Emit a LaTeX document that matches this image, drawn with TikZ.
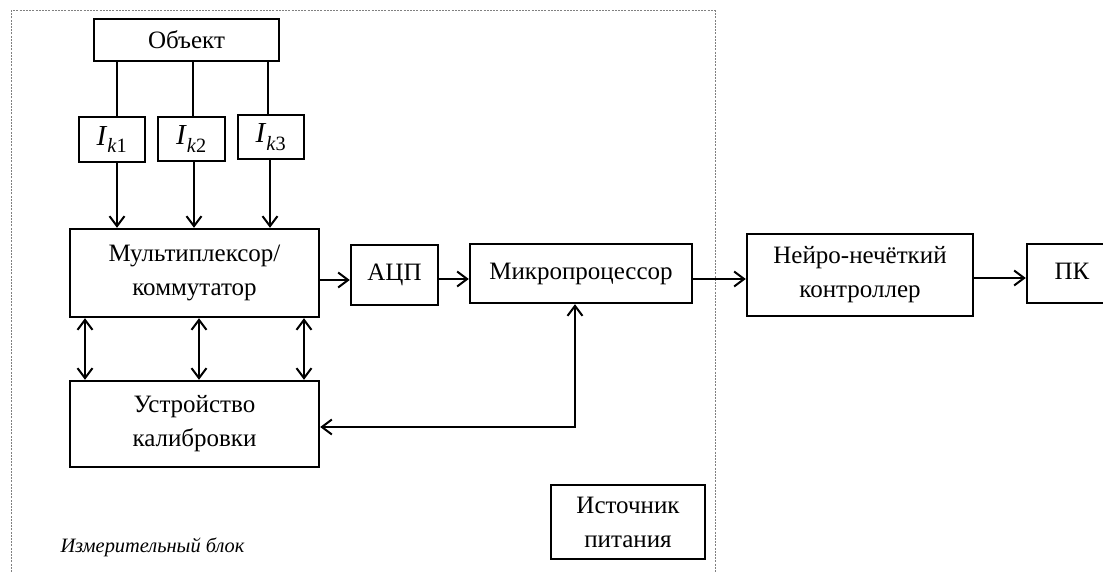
\documentclass[tikz,border=0pt]{standalone}
\usepackage{fontspec}
\setmainfont{Liberation Serif}
\usetikzlibrary{arrows.meta}
\tikzset{
  blk/.style={draw, line width=2.4pt, inner sep=0pt, align=center, font=\fontsize{25}{34}\selectfont},
  ik/.style={blk, font=\fontsize{29}{30}\selectfont},
  conn/.style={line width=2pt},
  arr/.style={conn, -{Straight Barb[length=10pt,width=15pt,line width=2pt]}},
  barr/.style={conn, {Straight Barb[length=10pt,width=15pt,line width=2pt]}-{Straight Barb[length=10pt,width=15pt,line width=2pt]}},
  frame/.style={line width=1pt, gray, dash pattern=on 2pt off 1.2pt}
}
\begin{document}
\begin{tikzpicture}[x=1pt,y=-1pt]
\clip (0,0) rectangle (1103,572);
\fill[white] (0,0) rectangle (1103,572);
% frame
\coordinate (fbl) at (11,572);
\coordinate (ftl) at (11,11);
\coordinate (ftr) at (715,11);
\coordinate (fbr) at (715,572);
\draw[frame] (fbl) -- (ftl) -- (ftr) -- (fbr);
% blocks
\node[blk, minimum width=185pt, minimum height=42pt] (obj) at (186.5,40) {Объект};
\node[ik, minimum width=66pt, minimum height=45pt] (ik1) at (112,139.5) {\textit{I}\raisebox{-2pt}{\textsubscript{\textit{k}1}}};
\node[ik, minimum width=67pt, minimum height=44pt] (ik2) at (191.5,139) {\textit{I}\raisebox{-2pt}{\textsubscript{\textit{k}2}}};
\node[ik, minimum width=66pt, minimum height=44pt] (ik3) at (271,137) {\textit{I}\raisebox{-2pt}{\textsubscript{\textit{k}3}}};
\node[blk, minimum width=249pt, minimum height=88pt] (mux) at (194.5,273) {Мультиплексор/\\коммутатор};
\node[blk, minimum width=249pt, minimum height=86pt] (cal) at (194.5,424) {Устройство\\калибровки};
\node[blk, minimum width=87pt, minimum height=60pt] (adc) at (394.5,275) {\raisebox{4pt}{АЦП}};
\node[blk, minimum width=222pt, minimum height=59pt] (mcu) at (581,273.5) {\raisebox{4pt}{Микропроцессор}};
\node[blk, minimum width=226pt, minimum height=82pt] (neuro) at (860,275) {Нейро-нечёткий\\контроллер};
\node[blk, minimum width=90pt, minimum height=59pt] (pc) at (1072,273.5) {\raisebox{4pt}{ПК}};
\node[blk, minimum width=154pt, minimum height=74pt] (psu) at (628,522) {Источник\\питания};
\node[font=\fontsize{20.4}{22}\selectfont\itshape, inner sep=0pt] (lbl) at (152.5,547) {Измерительный блок};
% object -> sensors
\draw[conn] (117,0 |- obj.south) -- (117,0 |- ik1.north);
\draw[conn] (193,0 |- obj.south) -- (193,0 |- ik2.north);
\draw[conn] (268,0 |- obj.south) -- (268,0 |- ik3.north);
% sensors -> mux
\draw[arr] (117,0 |- ik1.south) -- (117,0 |- mux.north);
\draw[arr] (194,0 |- ik2.south) -- (194,0 |- mux.north);
\draw[arr] (270,0 |- ik3.south) -- (270,0 |- mux.north);
% mux <-> calibration
\draw[barr] (85,0 |- mux.south) -- (85,0 |- cal.north);
\draw[barr] (199,0 |- mux.south) -- (199,0 |- cal.north);
\draw[barr] (304,0 |- mux.south) -- (304,0 |- cal.north);
% chain
\draw[arr] (mux.east |- 0,280) -- (adc.west |- 0,280);
\draw[arr] (adc.east |- 0,279) -- (mcu.west |- 0,279);
\draw[arr] (mcu.east |- 0,279) -- (neuro.west |- 0,279);
\draw[arr] (neuro.east |- 0,278) -- (pc.west |- 0,278);
% mcu <-> calibration
\draw[barr] (575,0 |- mcu.south) |- (cal.east |- 0,427);
\end{tikzpicture}
\end{document}
